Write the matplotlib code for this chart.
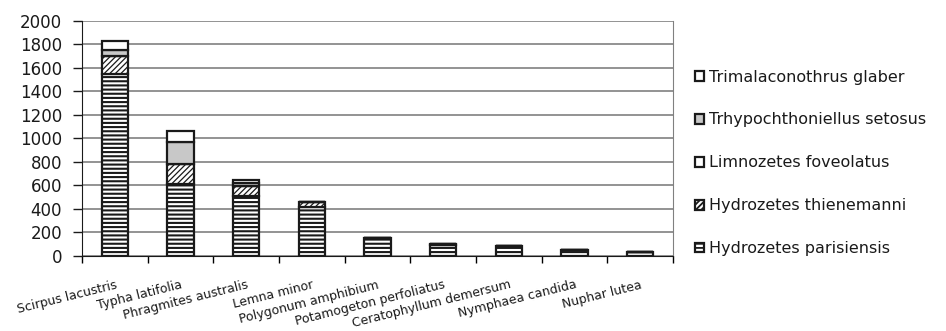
import matplotlib
matplotlib.use('Agg')
import matplotlib.pyplot as plt
import numpy as np

categories = ['Scirpus lacustris', 'Typha latifolia', 'Phragmites australis', 'Lemna minor',
              'Polygonum amphibium', 'Potamogeton perfoliatus', 'Ceratophyllum demersum',
              'Nymphaea candida', 'Nuphar lutea']
parisiensis = [1550, 610, 510, 420, 155, 95, 85, 55, 30]
thienemanni = [150, 170, 85, 40, 0, 10, 0, 0, 0]
limnozetes = [0, 0, 0, 0, 0, 0, 0, 0, 0]
trhypochthoniellus = [50, 190, 25, 0, 0, 0, 0, 0, 0]
trimalaconothrus = [77, 90, 30, 0, 0, 0, 0, 0, 0]

series = [
    ('Hydrozetes parisiensis', parisiensis, 'white', '----', 1.5),
    ('Hydrozetes thienemanni', thienemanni, 'white', '//////', 0.9),
    ('Limnozetes foveolatus', limnozetes, 'white', '', 1.0),
    ('Trhypochthoniellus setosus', trhypochthoniellus, '#c8c8c8', '', 1.0),
    ('Trimalaconothrus glaber', trimalaconothrus, 'white', '', 1.0),
]

plt.rcParams['font.family'] = 'DejaVu Sans'
plt.rcParams['hatch.linewidth'] = 1.3

fig = plt.figure(figsize=(9.46, 3.31), dpi=100)
ax = fig.add_axes([0.0867, 0.2266, 0.6247, 0.7109])

x = np.arange(len(categories))
bottom = np.zeros(len(categories))
handles = []
for name, vals, color, hatch, hlw in series:
    vals = np.array(vals, dtype=float)
    b = ax.bar(x, vals, 0.4, bottom=bottom, color=color, edgecolor='#1a1a1a',
               linewidth=1.6, hatch=hatch, label=name, zorder=3)
    for p in b:
        if hasattr(p, 'set_hatch_linewidth'):
            p.set_hatch_linewidth(hlw)
    bottom += vals
    handles.append(b)

ax.set_xlim(-0.5, len(categories) - 0.5)
ax.set_ylim(0, 2000)
ax.set_yticks(np.arange(0, 2001, 200))
ax.yaxis.grid(True, color='#808080', linewidth=1.2, zorder=0)
ax.tick_params(axis='y', direction='out', length=6.5, width=1, labelsize=12, pad=8,
               colors='#1a1a1a')

ax.set_xticks(x)
ax.set_xticklabels(categories, rotation=14, ha='right', va='top', rotation_mode='anchor',
                   fontsize=9, color='#1a1a1a')
ax.set_xticks(np.arange(-0.5, len(categories), 1), minor=True)
ax.tick_params(axis='x', which='major', length=0, pad=16)
ax.tick_params(axis='x', which='minor', direction='out', length=5, width=1)

ax.spines['top'].set_visible(False)
ax.spines['right'].set_color('#808080')
ax.spines['left'].set_color('#1a1a1a')
ax.spines['bottom'].set_color('#1a1a1a')

leg = fig.legend(handles[::-1], [s[0] for s in series][::-1], loc='upper left',
                 bbox_to_anchor=(0.735, 0.79), frameon=False, fontsize=11.5,
                 handlelength=0.55, handleheight=0.55, handletextpad=0.3,
                 labelspacing=1.75, borderpad=0, borderaxespad=0)
for t in leg.get_texts():
    t.set_color('#1a1a1a')

fig.savefig('out.png', dpi=100)
